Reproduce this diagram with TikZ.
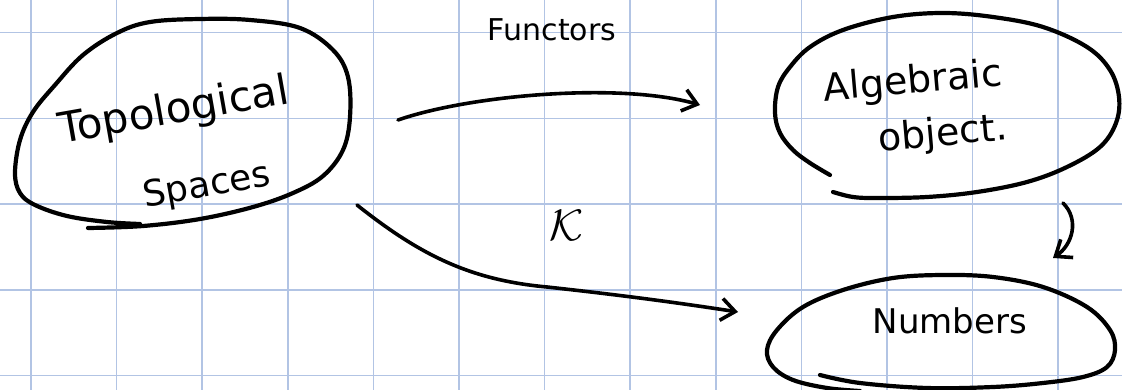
\documentclass[tikz,border=0pt]{standalone}
\usepackage{fontspec}
\usepackage{amsmath}
\usetikzlibrary{arrows.meta}
\newfontfamily\handfont{DejaVu Sans}
\definecolor{gridblue}{RGB}{178,196,228}
\tikzset{
  ink/.style={line width=4.2pt, line cap=round, line join=round, black},
  conn/.style={line width=3.6pt, line cap=round, line join=round, black,
    -{Straight Barb[length=14pt, width=22pt, line width=3.6pt]}},
  handtext/.style={inner sep=0pt, text=black},
}
\begin{document}
\begin{tikzpicture}[x=1pt, y=-1pt]
\useasboundingbox (0,0) rectangle (1122,390);
\fill[white] (0,0) rectangle (1122,390);
% grid
\foreach \k in {0,...,12} {
  \draw[gridblue, line width=1.6pt] ({31+85.6*\k},0) -- ({31+85.6*\k},390);
}
\foreach \k in {0,...,4} {
  \draw[gridblue, line width=1.6pt] (0,{32.7+85.7*\k}) -- (1122,{32.7+85.7*\k});
}
% Topological spaces loop
\draw[ink] plot[smooth, tension=0.6] coordinates {
  (88,228) (143,226) (200,219) (253,207) (293,193) (323,176) (343,150)
  (350,117) (348,77) (333,50) (300,28) (250,20) (200,19) (150,22)
  (117,33) (83,55) (55,85) (33,112) (20,140) (15,173) (20,193)
  (35,205) (67,216) (107,222) (140,224)};
% Algebraic object loop
\draw[ink] plot[smooth, tension=0.6] coordinates {
  (830,175) (810,163) (793,150) (780,133) (775,113) (778,87) (790,67)
  (810,47) (843,30) (893,17) (943,13) (993,17) (1043,27) (1087,47)
  (1110,70) (1119,97) (1116,123) (1100,147) (1067,167) (1027,182)
  (977,192) (927,197) (877,198) (853,197) (833,192)};
% Numbers loop
\draw[ink] plot[smooth, tension=0.6] coordinates {
  (820,375) (860,383) (927,388) (993,387) (1043,383) (1083,377)
  (1107,367) (1115,350) (1110,330) (1087,307) (1043,287) (993,277)
  (943,275) (893,278) (843,290) (803,307) (777,330) (767,350)
  (773,367) (793,380) (827,388) (860,391)};
% texts
\node[handtext, rotate=10, font=\handfont\fontsize{42}{46}\selectfont] (topo) at (174,112) {Topological};
\node[handtext, rotate=10, font=\handfont\fontsize{36}{40}\selectfont] (spaces) at (207,187) {Spaces};
\node[handtext, rotate=5, font=\handfont\fontsize{38}{42}\selectfont] (alg) at (913,83) {Algebraic};
\node[handtext, rotate=5, font=\handfont\fontsize{38}{42}\selectfont] (obj) at (943,135) {object.};
\node[handtext, font=\handfont\fontsize{34}{38}\selectfont] (num) at (950,321) {Numbers};
\node[handtext, font=\handfont\fontsize{30}{34}\selectfont] (functors) at (552,30) {Functors};
\node[handtext] (chi) at (567,225) {\scalebox{4.4}{$\mathcal{K}$}};
% connector end points
\coordinate (fa) at (398,120);
\coordinate (fb) at (700,105);
\coordinate (ka) at (357,205);
\coordinate (km) at (547,287);
\coordinate (kb) at (738,312);
\coordinate (da) at (1063,203);
\coordinate (db) at (1053,258);
% connectors
\draw[conn] (fa) .. controls (470,95) and (620,82) .. (fb);
\draw[conn] (ka) .. controls (420,255) and (470,280) .. (km)
  .. controls (620,295) and (680,303) .. (kb);
\draw[conn] (da) .. controls (1080,220) and (1072,245) .. (db);
\end{tikzpicture}
\end{document}
